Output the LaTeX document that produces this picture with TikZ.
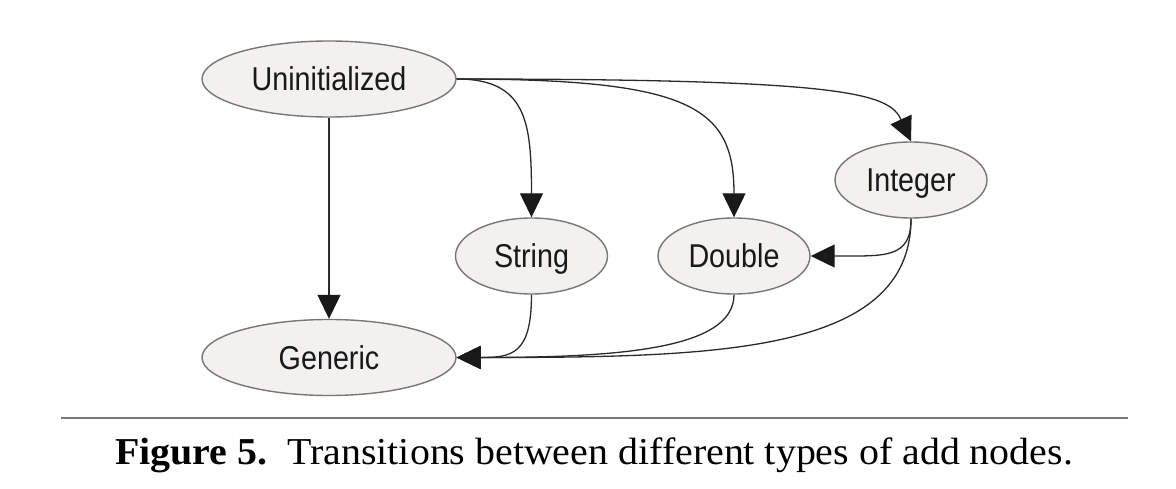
\documentclass[tikz,border=0pt]{standalone}
\usepackage{fontspec}
\setmainfont{Liberation Serif}
\newfontfamily\nodefont[FakeStretch=0.87]{Liberation Sans}
\newfontfamily\capfont[FakeStretch=1.05]{Liberation Serif}
\usetikzlibrary{shapes.geometric,arrows.meta}
\definecolor{nodefill}{HTML}{F2F1EF}
\definecolor{nodeline}{HTML}{777777}
\definecolor{edgecol}{HTML}{2A2A2A}
\tikzset{
  state/.style={ellipse,draw=nodeline,fill=nodefill,line width=1.4pt,inner sep=0pt,
    font=\nodefont\fontsize{33}{38}\selectfont,text=black!90,text height=23pt,text depth=0pt},
  wide/.style={minimum width=254pt,minimum height=76pt},
  narrow/.style={minimum width=152pt,minimum height=76pt},
  edge/.style={draw=edgecol,line width=1.3pt,-{Triangle[length=24pt,width=23pt,color=black!90]}},
}
\begin{document}
\begin{tikzpicture}[x=1pt,y=-1pt]
\useasboundingbox (0,0) rectangle (1176,489);
\node[state,wide]   (U) at (329,79)  {Uninitialized};
\node[state,wide]   (G) at (329,357.5) {Generic};
\node[state,narrow] (S) at (531.5,256) {String};
\node[state,narrow] (D) at (734,256) {Double};
\node[state,narrow] (I) at (911,180) {Integer};

\draw[edge] (U.south) -- (G.north);
\draw[edge] (U.east) .. controls +(70,0) and +(0,-95) .. (S.north);
\draw[edge] (U.east) .. controls +(235,0) and +(0,-110) .. (D.north);
\draw[edge] (U.east) .. controls +(390,0) and +(-22,-48) .. (I.north);
\draw[edge] (I.south) .. controls +(0,40) and +(75,0) .. (D.east);
\draw[edge] (I.south) .. controls +(0,135) and +(260,0) .. (G.east);
\draw[edge] (D.south) .. controls +(0,55) and +(160,0) .. (G.east);
\draw[edge] (S.south) .. controls +(0,60) and +(55,0) .. (G.east);

\draw[draw=nodeline,line width=2pt] (61,418) coordinate (la) -- (1128,418) coordinate (lb);
\node[anchor=base west,inner sep=0pt,font=\capfont\fontsize{38}{42}\selectfont] (cap) at (115,464)
  {\textbf{Figure 5.}\ \ Transitions between different types of add nodes.};
\end{tikzpicture}
\end{document}
